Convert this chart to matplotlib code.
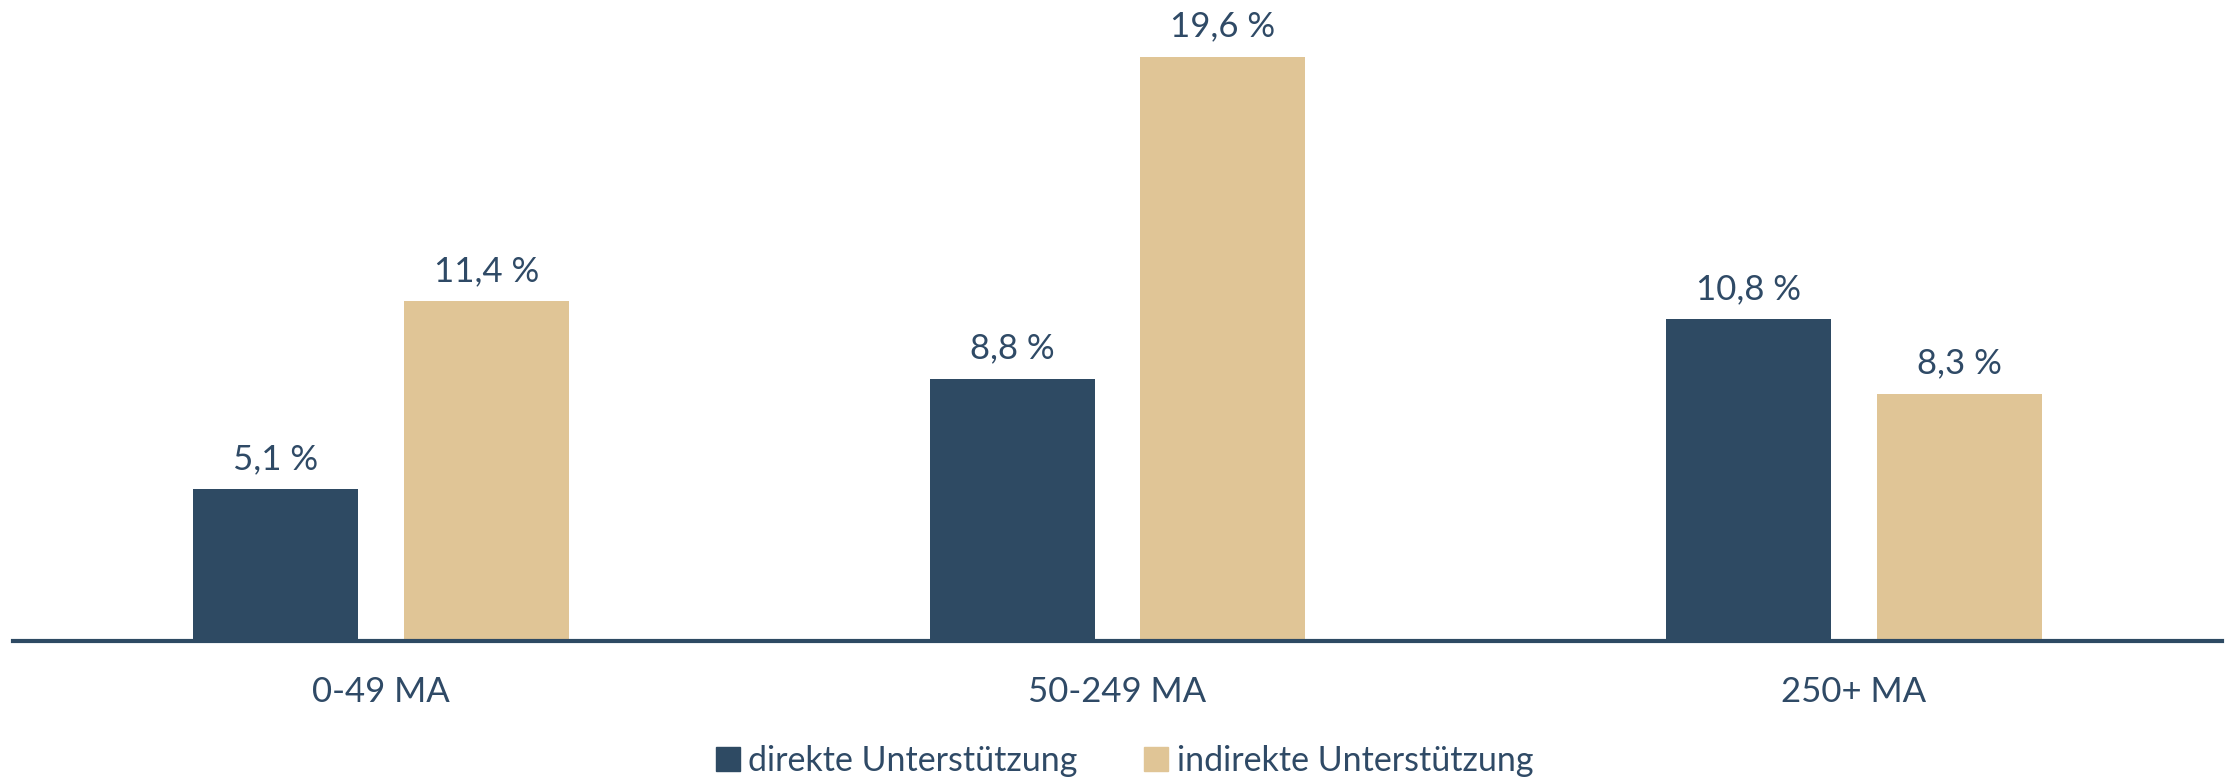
import numpy as np
import matplotlib
matplotlib.use('Agg')
import matplotlib.pyplot as plt
from matplotlib.lines import Line2D

plt.rcParams['font.family'] = ['Lato', 'DejaVu Sans']

categories = ['0-49 MA', '50-249 MA', '250+ MA']
series_names = ['direkte Unterstützung', 'indirekte Unterstützung']
direkt = [5.1, 8.8, 10.8]
indirekt = [11.4, 19.6, 8.3]

dark = '#2E4A63'
tan = '#E0C596'
text_col = '#2F4A66'

fig = plt.figure(figsize=(22.33, 7.77), dpi=100)
ax = fig.add_axes([13 / 2233, 136 / 777, 2209 / 2233, 641 / 777])

x = np.arange(len(categories))
w = 0.224
off = 0.143
b1 = ax.bar(x - off, direkt, w, color=dark)
b2 = ax.bar(x + off, indirekt, w, color=tan)

# value labels above bars, German decimal comma
for bars, vals in [(b1, direkt), (b2, indirekt)]:
    for b, v in zip(bars, vals):
        ax.annotate(f'{v:.1f} %'.replace('.', ','),
                    (b.get_x() + b.get_width() / 2, v),
                    xytext=(0, 30), textcoords='offset pixels',
                    ha='center', va='center', fontsize=25, color=text_col)

ax.set_xlim(-0.5, 2.5)
ax.set_ylim(0, 21.5)
ax.set_xticks(x)
ax.set_xticklabels(categories, fontsize=25, color=text_col)
ax.tick_params(axis='x', length=0, pad=25)
ax.set_yticks([])
for s in ['top', 'right', 'left']:
    ax.spines[s].set_visible(False)
ax.spines['bottom'].set_color(dark)
ax.spines['bottom'].set_linewidth(3)

handles = [Line2D([], [], marker='s', linestyle='', markersize=17, color=dark),
           Line2D([], [], marker='s', linestyle='', markersize=17, color=tan)]
leg = fig.legend(handles, series_names, loc='center', bbox_to_anchor=(0.504, 16 / 777),
                 ncol=2, frameon=False, fontsize=24.5, handlelength=0.6,
                 handletextpad=0.3, columnspacing=2.0)
for t in leg.get_texts():
    t.set_color(text_col)

fig.savefig('out.png', dpi=100)
